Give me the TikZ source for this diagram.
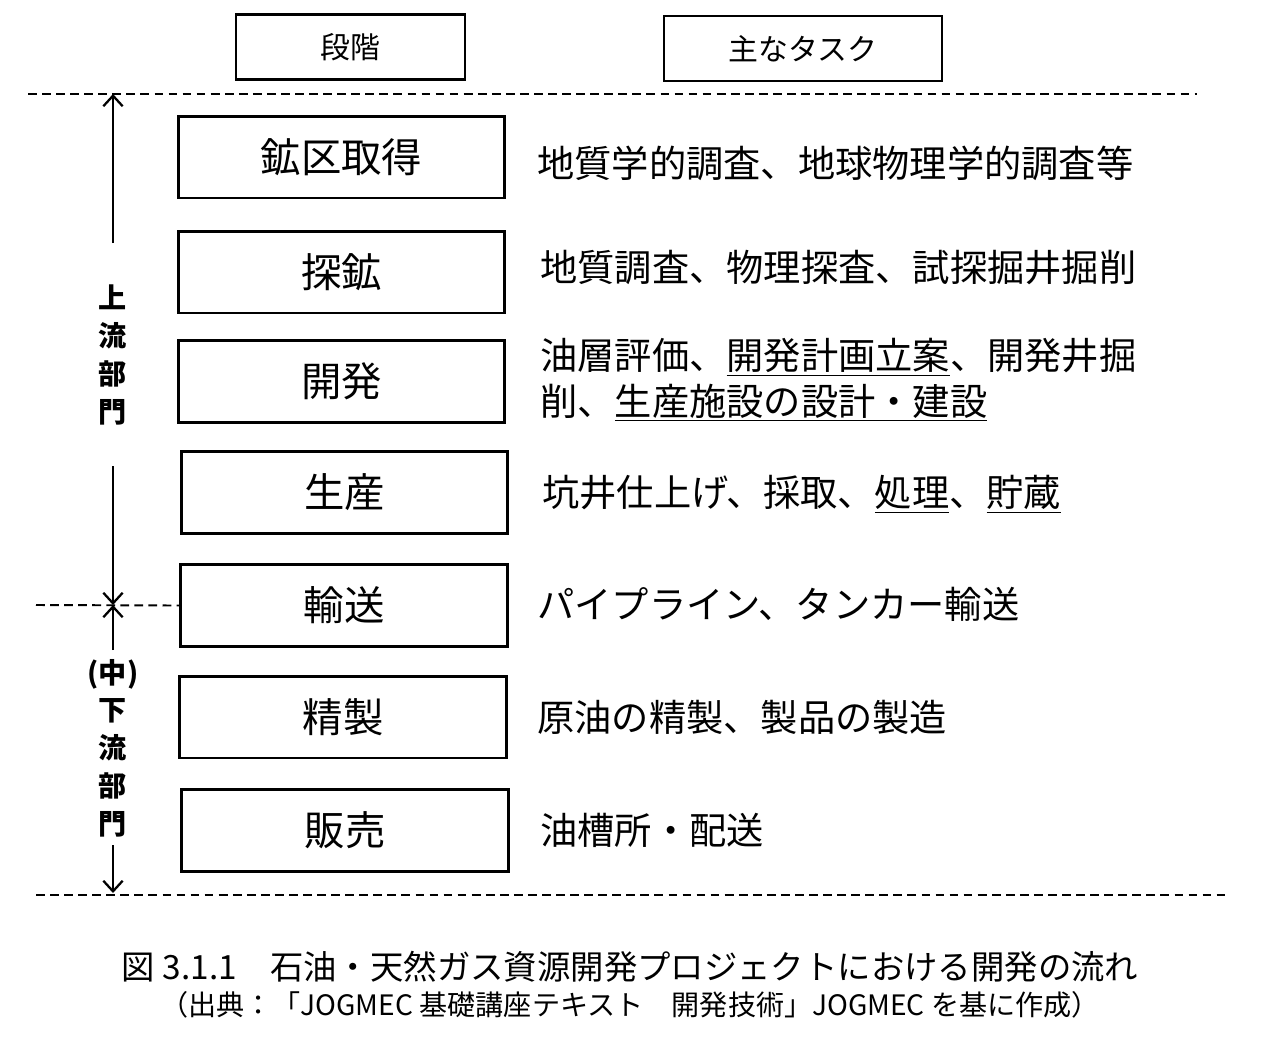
\documentclass[tikz,border=0pt]{standalone}
\usepackage{fontspec}
\setmainfont{Noto Sans CJK JP}
\usetikzlibrary{arrows.meta}

\begin{document}
\begin{tikzpicture}[x=0.02cm,y=-0.02cm,>={Straight Barb[length=6pt,width=11pt]}]
  \tikzset{stage/.style={draw,line width=1.7pt,minimum width=6.54cm,minimum height=1.64cm,font=\fontsize{23}{26}\selectfont},
           head/.style={draw,line width=1.5pt,minimum height=1.3cm,font=\fontsize{17}{20}\selectfont},
           task/.style={anchor=west,inner sep=0pt,font=\fontsize{21.2}{26}\selectfont,align=left},
           side/.style={align=center,inner sep=0pt,font=\fontsize{16}{21.5}\selectfont\bfseries},
           sep/.style={dashed,line width=1.1pt,dash pattern=on 5pt off 3pt},
           span/.style={->,line width=1.3pt}}
  \useasboundingbox (0,0) rectangle (1280,1058);
  % headings
  \node[head,minimum width=4.58cm] (stagehead) at (350.5,47) {段階};
  \node[head,minimum width=5.56cm] (taskhead) at (803,48.5) {主なタスク};
  % stages
  \node[stage] (acq) at (341.5,157) {鉱区取得};
  \node[stage] (expl) at (341.5,272) {探鉱};
  \node[stage] (dev) at (341.5,381.5) {開発};
  \node[stage] (prod) at (344.5,492.5) {生産};
  \node[stage] (trans) at (344,605.5) {輸送};
  \node[stage] (refine) at (343,717) {精製};
  \node[stage] (sales) at (345,830.5) {販売};
  % tasks
  \node[task] (tacq) at (537,163) {地質学的調査、地球物理学的調査等};
  \node[task] (texpl) at (540,268) {地質調査、物理探査、試探掘井掘削};
  \node[task] (tdev) at (540,380) {油層評価、\underline{開発計画立案}、開発井掘\\削、\underline{生産施設の設計・建設}};
  \node[task] (tprod) at (542,494) {坑井仕上げ、採取、\underline{処理}、\underline{貯蔵}};
  \node[task] (ttrans) at (537,604) {パイプライン、タンカー輸送};
  \node[task] (trefine) at (537,717) {原油の精製、製品の製造};
  \node[task] (tsales) at (540,830) {油槽所・配送};
  % separators
  \coordinate (topL) at (28,94);
  \coordinate (topR) at (1197,94);
  \coordinate (midL) at (36,605);
  \coordinate (botL) at (36,895);
  \coordinate (botR) at (1230,895);
  \draw[sep] (topL) -- (topR);
  \draw[sep] (midL) -- (trans.west);
  \draw[sep] (botL) -- (botR);
  % sectors
  \node[side] (up) at (113,355) {上\\流\\部\\門};
  \node[side] (down) at (113,748) {(中)\\下\\流\\部\\門};
  \coordinate (upA) at (113,243);
  \coordinate (upB) at (113,466);
  \coordinate (dnA) at (113,650);
  \coordinate (dnB) at (113,845);
  \draw[span] (upA) -- (113,94);
  \draw[span] (upB) -- (113,605);
  \draw[span] (dnA) -- (113,605);
  \draw[span] (dnB) -- (113,893);
  % caption
  \node[font=\fontsize{19}{22}\selectfont] (cap) at (630,967) {図 3.1.1　石油・天然ガス資源開発プロジェクトにおける開発の流れ};
  \node[font=\fontsize{16}{19}\selectfont] (src) at (630,1005) {（出典：「JOGMEC 基礎講座テキスト　開発技術」JOGMEC を基に作成）};
\end{tikzpicture}
\end{document}
